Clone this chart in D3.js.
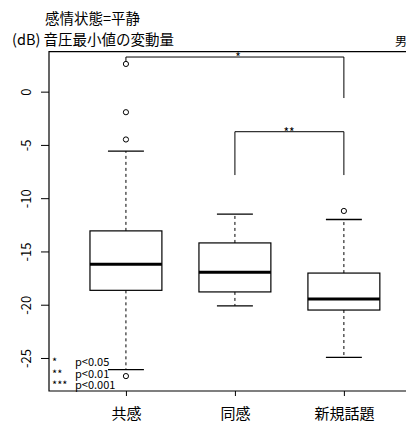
<!DOCTYPE html>
<html><head><meta charset="utf-8">
<script src="https://cdn.jsdelivr.net/npm/d3@7"></script>
<style>body{margin:0;background:#fff}svg{display:block}text{font-family:"Noto Sans CJK JP","Noto Sans",sans-serif;fill:#000}</style>
</head><body><svg id="c" width="406" height="423"></svg>
<script>
const categories = ["共感","同感","新規話題"];
const whiskerLow = [-26.1, -20.1, -24.95];
const q1 = [-18.65, -18.8, -20.5];
const median = [-16.2, -16.96, -19.46];
const q3 = [-13.07, -14.2, -17.03];
const whiskerHigh = [-5.58, -11.5, -12.0];
const outliers = [[2.6, -1.93, -4.49, -26.7], [], [-11.2]];
const yTicks = [0, -5, -10, -15, -20, -25];
const brackets = [
  {from:0, to:2, top:3.25, leftEnd:2.87, rightEnd:-0.6, label:"*", labelX:238},
  {from:1, to:2, top:-3.76, leftEnd:-7.83, rightEnd:-7.83, label:"**", labelX:289}
];
const legendStars = ["*","**","***"];
const legendP = ["p<0.05","p<0.01","p<0.001"];
const titleLine1 = "感情状態=平静";
const titleLine2 = "(dB) 音圧最小値の変動量";
const sideLabel = "男";

const svg = d3.select("#c");
const y = d3.scaleLinear().domain([-28.1, 3.75]).range([391, 51.7]);
const xi = d3.scaleLinear().domain([0.294, 3.57]).range([49, 406]);
const x = i => xi(i + 1);
const bw = xi(1.66) - xi(1);

// titles
svg.append("text").attr("x", 45).attr("y", 24).attr("font-size", 14.5).text(titleLine1);
svg.append("text").attr("x", 12).attr("y", 45).attr("font-size", 14.5).text(titleLine2);
svg.append("text").attr("x", 395).attr("y", 46).attr("font-size", 12).text(sideLabel);

// frame
const fr = svg.append("g").attr("stroke", "#000").attr("stroke-width", 1.2).attr("fill", "none");
fr.append("path").attr("d", `M410,${y(3.75)}H49V${y(-28.1)}H410`);

// y axis
const ya = svg.append("g").attr("transform", "translate(49,0)")
  .call(d3.axisLeft(y).tickValues(yTicks).tickSize(8).tickSizeOuter(0).tickFormat(d => d));
ya.select(".domain").remove();
ya.selectAll(".tick line").attr("stroke", "#000");
ya.selectAll(".tick text").attr("font-size", 13).attr("x", 0).attr("dy", 0)
  .attr("text-anchor", "middle")
  .attr("font-family", "Liberation Sans")
  .attr("transform", "translate(-22,0) rotate(-90)")
  .attr("dominant-baseline", "middle");

// x axis
const xa = svg.append("g").attr("transform", `translate(0,${y(-28.1)})`)
  .call(d3.axisBottom(xi).tickValues([1,2,3]).tickSize(5).tickSizeOuter(0).tickFormat(d => categories[d-1]));
xa.select(".domain").remove();
xa.selectAll(".tick line").attr("stroke", "#000");
xa.selectAll(".tick text").attr("font-size", 15).attr("dy", 0).attr("y", 28).attr("font-family", "Noto Sans CJK JP");

// boxes
const g = svg.append("g").attr("stroke", "#000").attr("fill", "none");
categories.forEach((c, i) => {
  const cx = x(i);
  g.append("line").attr("x1", cx).attr("x2", cx).attr("y1", y(q3[i])).attr("y2", y(whiskerHigh[i])).attr("stroke-dasharray", "3,3");
  g.append("line").attr("x1", cx).attr("x2", cx).attr("y1", y(q1[i])).attr("y2", y(whiskerLow[i])).attr("stroke-dasharray", "3,3");
  g.append("line").attr("x1", cx - bw/4).attr("x2", cx + bw/4).attr("y1", y(whiskerHigh[i])).attr("y2", y(whiskerHigh[i])).attr("stroke-width", 1.3);
  g.append("line").attr("x1", cx - bw/4).attr("x2", cx + bw/4).attr("y1", y(whiskerLow[i])).attr("y2", y(whiskerLow[i])).attr("stroke-width", 1.3);
  g.append("rect").attr("x", cx - bw/2).attr("width", bw).attr("y", y(q3[i])).attr("height", y(q1[i]) - y(q3[i])).attr("stroke-width", 1.2);
  g.append("line").attr("x1", cx - bw/2).attr("x2", cx + bw/2).attr("y1", y(median[i])).attr("y2", y(median[i])).attr("stroke-width", 3);
  outliers[i].forEach(v => {
    g.append("circle").attr("cx", cx).attr("cy", y(v)).attr("r", 2.6).attr("stroke-width", 1);
  });
});

// significance brackets
const bg = svg.append("g").attr("stroke", "#000").attr("fill", "none").attr("stroke-width", 1);
brackets.forEach(b => {
  const x1 = x(b.from), x2 = x(b.to);
  bg.append("path").attr("d", `M${x1},${y(b.leftEnd)}V${y(b.top)}H${x2}V${y(b.rightEnd)}`);
  svg.append("text").attr("x", b.labelX).attr("y", y(b.top) + 5).attr("font-size", 12)
    .attr("font-family", "DejaVu Sans").attr("text-anchor", "middle").text(b.label);
});

// legend (one text element per column, rows as tspans)
const ls = svg.append("text").attr("font-size", 11).attr("font-family", "DejaVu Sans");
legendStars.forEach((s, k) => ls.append("tspan").attr("x", 52).attr("y", 366 + k * 11.5).text(s));
const lp = svg.append("text").attr("font-size", 11).attr("font-family", "Liberation Sans");
legendP.forEach((s, k) => lp.append("tspan").attr("x", 75).attr("y", 366 + k * 11.5).text(s));
</script></body></html>
